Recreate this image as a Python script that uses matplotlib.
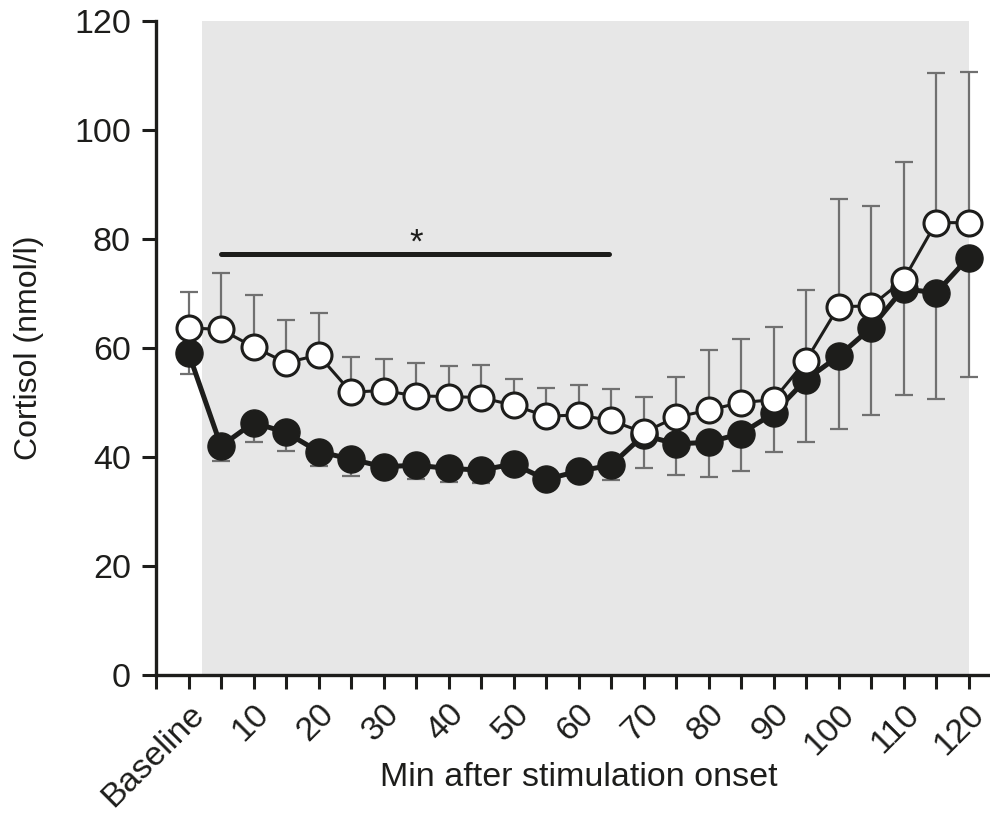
import matplotlib
matplotlib.use("Agg")
import matplotlib.pyplot as plt

plt.rcParams['font.family'] = ['Liberation Sans', 'DejaVu Sans']

# Sampling points: baseline, then every 5 min after stimulation onset
time_labels = ['Baseline', '5', '10', '15', '20', '25', '30', '35', '40', '45',
               '50', '55', '60', '65', '70', '75', '80', '85', '90', '95',
               '100', '105', '110', '115', '120']
shown_labels = ['Baseline', '10', '20', '30', '40', '50', '60', '70', '80',
                '90', '100', '110', '120']

# Group shown with open circles (mean and upper SEM)
open_mean = [63.7, 63.4, 60.2, 57.3, 58.7, 51.9, 52.2, 51.2, 51.1, 50.9,
             49.5, 47.5, 47.7, 46.7, 44.5, 47.3, 48.6, 50.0, 50.5, 57.7,
             67.6, 67.7, 72.5, 83.0, 83.0]
open_sem = [6.6, 10.3, 9.6, 7.8, 7.8, 6.4, 5.8, 6.0, 5.6, 6.0,
            4.9, 5.2, 5.6, 5.8, 6.6, 7.3, 11.0, 11.6, 13.4, 12.9,
            19.7, 18.4, 21.7, 27.4, 27.6]

# Group shown with filled circles (mean and lower SEM)
filled_mean = [59.1, 42.0, 46.3, 44.5, 41.0, 39.6, 38.2, 38.5, 37.9, 37.6,
               38.7, 35.9, 37.4, 38.5, 44.0, 42.4, 42.7, 44.3, 48.0, 54.2,
               58.5, 63.7, 70.9, 70.1, 76.6]
filled_sem = [3.9, 2.7, 3.6, 3.4, 2.6, 3.0, 1.8, 2.6, 2.5, 2.4,
              1.8, 1.8, 1.8, 2.7, 6.1, 5.7, 6.3, 6.9, 7.0, 11.5,
              13.4, 16.0, 19.5, 19.5, 21.9]

# Significance bar spans 5-65 min
sig_start, sig_end, sig_level = '5', '65', 77.2

pos = list(range(1, len(time_labels) + 1))
idx = {lab: p for lab, p in zip(time_labels, pos)}

fig = plt.figure(figsize=(9.9, 8.13), dpi=100)
ax = fig.add_axes([156 / 990, 1 - 675 / 813, (990 - 156) / 990, (675 - 21) / 813])
ax.set_xlim(0, 25.66)
ax.set_ylim(0, 120)

# Stimulation period shading
ax.axvspan(1.43, pos[-1], color='#e7e7e7', zorder=0, lw=0)

err_kw = dict(fmt='none', ecolor='#707070', elinewidth=1.6, capsize=6.8,
              capthick=1.6, zorder=1)
ax.errorbar(pos, filled_mean, yerr=[filled_sem, [0] * len(pos)], **err_kw)
ax.errorbar(pos, open_mean, yerr=[[0] * len(pos), open_sem], **err_kw)

ax.plot(pos, filled_mean, '-o', color='#1d1d1b', lw=3.6, ms=19.5,
        mfc='#1d1d1b', mec='#1d1d1b', mew=1.0, zorder=2)
ax.plot(pos, open_mean, '-o', color='#1d1d1b', lw=2.2, ms=18,
        mfc='white', mec='#1d1d1b', mew=2.2, zorder=3)

# Significance marker
ax.plot([idx[sig_start], idx[sig_end] - 0.05], [sig_level, sig_level],
        color='#1d1d1b', lw=3.6, solid_capstyle='round', zorder=3)
ax.text((idx[sig_start] + idx[sig_end]) / 2, sig_level + 0.3, '*',
        ha='center', va='baseline', fontsize=25, color='#1d1d1b')

# Axes styling
for s in ('top', 'right'):
    ax.spines[s].set_visible(False)
for s in ('left', 'bottom'):
    ax.spines[s].set_linewidth(2.4)
    ax.spines[s].set_color('#1d1d1b')

ax.set_yticks(range(0, 121, 20))
ax.tick_params(axis='y', direction='out', length=10, width=2.2,
               labelsize=24.5, pad=8, colors='#1d1d1b')

xticks = [0] + pos
xticklabels = [''] + [lab if lab in shown_labels else '' for lab in time_labels]
ax.set_xticks(xticks)
ax.set_xticklabels(xticklabels, rotation=45, ha='right', rotation_mode='anchor')
ax.tick_params(axis='x', direction='out', length=10, width=2.2,
               labelsize=24.5, pad=7, colors='#1d1d1b')

ax.set_ylabel('Cortisol (nmol/l)', fontsize=23, color='#1d1d1b')
ax.yaxis.label.set_va('center')
ax.yaxis.set_label_coords((29 - 156) / 834, 0.5)
ax.set_xlabel('Min after stimulation onset', fontsize=24.5, color='#1d1d1b')
ax.xaxis.set_label_coords((579 - 156) / 834, -(778 - 675) / 654)
ax.xaxis.label.set_va('center')

fig.savefig('out.png', dpi=100)
